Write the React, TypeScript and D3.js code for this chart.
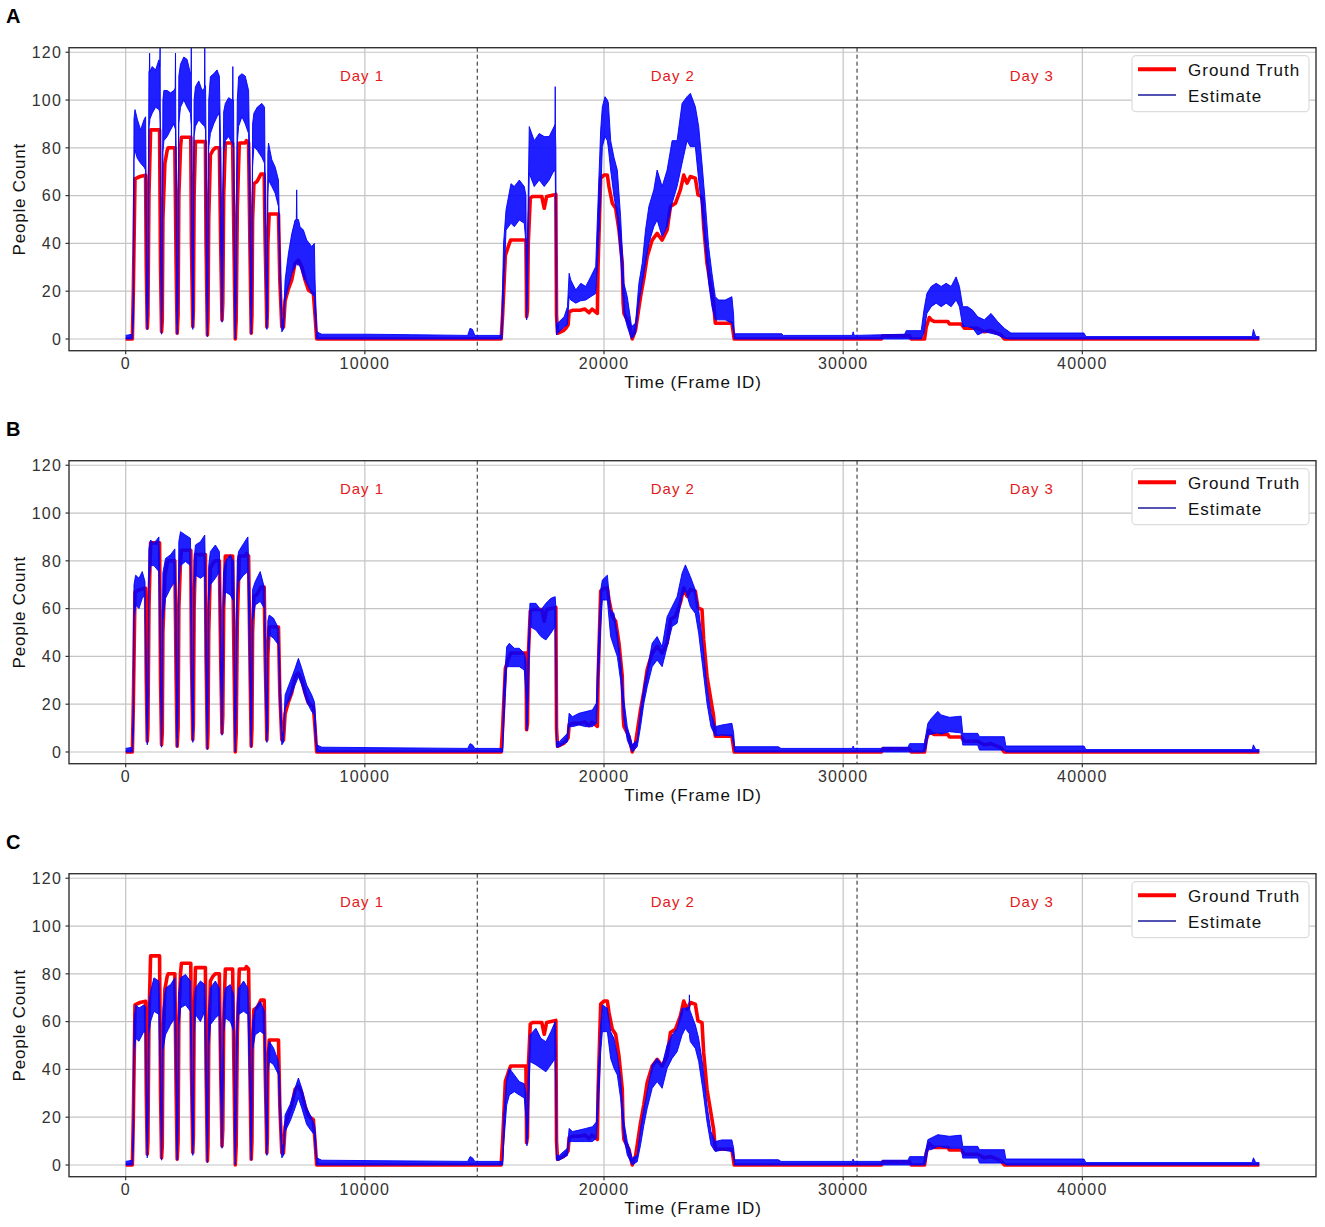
import React from 'react';
import * as d3 from 'd3';

// ground truth: [frame, count] breakpoints (shared by all panels)
const groundTruth: [number, number][] = [
  [0, 0], [280, 0], [320, 20], [389, 67], [600, 68], [833, 68.5], [861, 30], [903, 4.5], [930, 10], [972, 60],
  [1042, 87.5], [1417, 87.5], [1458, 30], [1500, 3], [1530, 8], [1556, 50], [1639, 73.5], [1736, 79], [1780, 80],
  [2056, 80], [2111, 30], [2153, 2.4], [2190, 10], [2222, 60], [2292, 80], [2330, 84.4], [2722, 84.4], [2750, 40],
  [2806, 5.2], [2830, 12], [2861, 60], [2917, 82.6], [3333, 82.6], [3361, 40], [3417, 1.7], [3440, 8], [3472, 50],
  [3542, 77], [3650, 79], [3750, 80], [3917, 80], [3972, 40], [4028, 8], [4060, 15], [4097, 60], [4167, 82],
  [4472, 82], [4528, 40], [4583, 0], [4620, 8], [4667, 55], [4750, 82], [5000, 82], [5050, 83], [5139, 82],
  [5194, 40], [5250, 2.4], [5280, 10], [5306, 50], [5361, 65], [5500, 66], [5653, 69], [5792, 69], [5833, 40],
  [5903, 5], [5925, 12], [5944, 40], [6000, 52.3], [6389, 52.3], [6444, 25], [6528, 5], [6597, 5], [6667, 16],
  [6806, 21], [6944, 24.7], [7083, 31.7], [7222, 33], [7361, 30.3], [7500, 24.7], [7639, 20.5], [7847, 19],
  [7917, 10], [7986, 0],
  [15700, 0], [15760, 10], [15875, 35], [16042, 40], [16100, 41.4], [16736, 41.4], [16764, 9.3], [16800, 12],
  [16833, 40], [16917, 58.9], [17000, 59.6], [17400, 59.6], [17500, 54.7], [17600, 59.6], [17986, 60.5],
  [18014, 10], [18056, 2.4], [18300, 3.5], [18403, 4.5], [18500, 6], [18542, 11.4], [18680, 12], [19000, 12],
  [19200, 12.5], [19375, 11], [19500, 12.5], [19722, 10.7], [19750, 30], [19861, 67.3], [20000, 68.6],
  [20139, 68.6], [20208, 63.8], [20347, 56.8], [20486, 54.7], [20625, 45.6], [20764, 31.7], [20800, 15],
  [20833, 10.7], [21042, 6.6], [21181, 0], [21319, 3.8], [21528, 17.7], [21667, 25.4], [21806, 34.5],
  [22014, 41.4], [22222, 44.2], [22431, 41.4], [22639, 45.6], [22778, 55.4], [22986, 56.8], [23194, 62.4],
  [23333, 68.6], [23472, 65.2], [23611, 68], [23819, 67.3], [23930, 60.3], [24097, 59.6], [24167, 47],
  [24306, 31.7], [24444, 23.3], [24583, 14.9], [24653, 6.6], [25347, 6.6], [25444, 0],
  [31597, 0], [31650, 1.3], [32778, 1.3], [32847, 0], [33403, 0], [33472, 5], [33600, 9], [33681, 8],
  [33819, 7.3], [34375, 7.3], [34444, 6.3], [34931, 6.3], [35069, 4.5], [35625, 4.5], [35903, 3], [36181, 3.5],
  [36600, 1.7], [36736, 0], [47400, 0],
];

// estimate envelopes: [frame, low, high]
const estimateA: [number, number, number][] = [
  [0, 0, 1.5], [280, 0, 2], [330, 10, 25],
  [347, 75, 92], [389, 79, 96], [486, 75.6, 92], [625, 73.5, 87.5], [764, 72, 91.7], [833, 70.7, 93],
  [870, 20, 45], [903, 4, 7], [940, 15, 40],
  [972, 88, 112], [990, 90, 112], [1000, 90, 119.6], [1012, 92, 112], [1111, 94.5, 114], [1250, 97, 112.6],
  [1389, 96, 116.8], [1425, 95, 114], [1440, 90, 122], [1450, 60, 90], [1458, 40, 80],
  [1500, 2, 6], [1530, 15, 40],
  [1556, 78, 100], [1597, 83, 104], [1736, 84.7, 104], [1875, 87.5, 103], [2014, 90, 104], [2070, 88, 105],
  [2083, 88, 119.6], [2095, 60, 90], [2111, 40, 80],
  [2153, 2, 6], [2190, 15, 40],
  [2222, 90, 110], [2292, 97, 115], [2431, 100, 118], [2569, 97, 117], [2708, 94.5, 111], [2735, 90, 111],
  [2743, 90, 122], [2752, 60, 90], [2760, 40, 80],
  [2806, 4, 8], [2830, 15, 40],
  [2861, 85, 100], [2917, 89, 105.6], [3056, 91.7, 108], [3194, 90, 104], [3295, 89, 105], [3306, 89, 122],
  [3318, 88, 106], [3340, 88, 106], [3361, 40, 80],
  [3417, 1, 5], [3440, 15, 40],
  [3472, 80, 100], [3542, 86, 109.8], [3681, 90, 111], [3819, 93, 112.6], [3917, 94.5, 110], [3972, 40, 80],
  [4028, 7, 11], [4060, 20, 45],
  [4097, 78, 95], [4167, 83, 98.6], [4306, 84.7, 101], [4444, 82, 100], [4470, 82, 100], [4480, 82, 114],
  [4490, 80, 100], [4510, 80, 100], [4528, 40, 70],
  [4583, 0, 4], [4620, 15, 40],
  [4667, 82, 100], [4722, 89, 109.8], [4861, 93, 111], [5000, 90, 110], [5139, 86, 104], [5194, 40, 70],
  [5250, 2, 6], [5280, 15, 40],
  [5306, 72, 90], [5361, 80.5, 94.5], [5500, 79, 97], [5694, 76, 98.6], [5806, 73.5, 97], [5833, 40, 65],
  [5903, 4, 8], [5925, 15, 35],
  [5944, 60, 78], [5972, 66.5, 82], [6111, 63.8, 75], [6250, 61, 72], [6389, 55.4, 66.5], [6444, 25, 40],
  [6528, 3, 7], [6597, 4, 9],
  [6667, 16.3, 24.7], [6806, 22, 35.9], [6944, 27.5, 44], [7083, 30.3, 49.8], [7135, 32, 50], [7150, 32, 62.4],
  [7165, 31, 50], [7222, 31, 50], [7292, 30.3, 47], [7431, 26, 45.6], [7569, 23.3, 41.4], [7778, 19, 38.7],
  [7889, 17.7, 40], [7917, 10, 25], [7986, 0, 3],
  [8200, 0, 2], [10000, 0, 2], [12000, 0, 1.8], [14300, 0, 1.5], [14400, 0, 4.5], [14500, 0, 4], [14600, 0, 1.5], [15700, 0, 1.5],
  [15736, 0, 10], [15800, 20, 40], [15903, 45.6, 54], [16111, 48.4, 65], [16250, 47, 63.8], [16458, 49.8, 66.5],
  [16667, 48.4, 63.8], [16736, 40, 60], [16764, 8, 12], [16800, 20, 40], [16875, 69.3, 88.9], [17083, 63.8, 83],
  [17292, 66.5, 86], [17500, 63.8, 84.7], [17708, 66.5, 84.7], [17917, 70.7, 89], [17950, 70, 90], [17960, 70, 105.6],
  [17972, 60, 85], [17986, 50, 80],
  [18014, 1.7, 3.8], [18056, 2.4, 6.6], [18333, 5, 9.3], [18472, 6, 13.5], [18542, 17.7, 27.5], [18611, 16.3, 24.7],
  [18819, 15, 20.5], [19028, 16, 23.3], [19236, 16.3, 22], [19444, 17.7, 26], [19653, 19, 30.3], [19722, 30, 50],
  [19861, 60, 87.5], [19931, 80.5, 97.2], [20042, 84.7, 101.4], [20139, 83, 100], [20181, 80, 99], [20278, 70.7, 83],
  [20417, 59.6, 76], [20556, 51.2, 70.7], [20694, 34.5, 51.2], [20833, 10.7, 23.3], [20972, 5.2, 17.7], [21153, 0, 5.2],
  [21319, 2.4, 6.6], [21458, 15, 23.3], [21597, 23.3, 31.7], [21736, 31.7, 45.6], [21875, 40, 55.4], [22083, 47, 62.4],
  [22222, 49.8, 70.7], [22431, 42.8, 63.8], [22639, 47, 70.7], [22847, 56.8, 83], [23056, 63.8, 83], [23264, 73.5, 98.6],
  [23472, 83, 101.4], [23611, 80.5, 102.8], [23819, 80.5, 97.2], [23958, 66.5, 89], [24097, 54, 73.5], [24236, 38.7, 56.8],
  [24375, 23.3, 38.7], [24514, 13.5, 27.5], [24653, 8, 17.7], [24792, 8, 16.3], [25069, 8, 16.3], [25347, 6.6, 17.7],
  [25420, 3, 10], [25444, 0, 2.2], [27431, 0, 2.2], [27500, 0, 1.5], [30380, 0, 1.5], [30417, 0, 3], [30460, 0, 1.5],
  [32570, 0, 2], [32639, 0, 3.5], [33264, 0, 3.5], [33375, 2.4, 12], [33500, 10.7, 19], [33681, 13.5, 22], [33889, 15, 23.3],
  [34097, 13.5, 22], [34306, 15, 23.3], [34514, 13.5, 22], [34722, 16.3, 26], [34861, 13.5, 22], [35000, 5.2, 13.5],
  [35208, 5.2, 13.5], [35417, 4.5, 12], [35625, 1.7, 9.3], [35903, 3, 8], [36181, 2.4, 10.7], [36458, 1.7, 7.3],
  [36736, 0.3, 4.5], [37014, 0, 2.5], [40069, 0, 2.5], [40150, 0, 1], [47100, 0, 1], [47153, 0, 4], [47250, 0, 1], [47400, 0, 1],
];

const estimateB: [number, number, number][] = [
  [0, 0, 1.5], [280, 0, 2], [330, 10, 25],
  [347, 55, 70], [417, 61.5, 74], [556, 60, 72.7], [694, 64.3, 75.5], [806, 65.7, 71.3], [861, 25, 40], [903, 3, 7], [940, 20, 40],
  [972, 70, 85], [1042, 78, 88.7], [1181, 78, 87.3], [1389, 75.5, 90], [1458, 30, 60], [1500, 2, 6], [1530, 15, 40],
  [1556, 55, 75], [1667, 64.3, 81], [1875, 68.5, 82.5], [2056, 71.3, 85], [2111, 30, 60], [2153, 2, 6], [2190, 15, 40],
  [2222, 70, 88], [2292, 78, 92.2], [2500, 79.7, 90.8], [2708, 78, 89.4], [2750, 30, 60], [2806, 4, 8], [2830, 15, 40],
  [2861, 65, 80], [2917, 74, 86.6], [3125, 72.7, 88], [3306, 74, 90.8], [3361, 30, 60], [3417, 1, 5], [3440, 15, 40],
  [3472, 62, 78], [3542, 70, 83.9], [3750, 72.7, 86.6], [3917, 75.5, 83.9], [3972, 30, 60], [4028, 7, 11], [4060, 20, 40],
  [4097, 60, 75], [4167, 67, 79.7], [4375, 65.7, 82.5], [4514, 63, 79.7], [4540, 30, 55], [4583, 0, 4], [4620, 15, 40],
  [4667, 65, 80], [4722, 71.3, 83.9], [4931, 74, 87.3], [5111, 75.5, 90], [5194, 30, 60], [5250, 2, 6], [5280, 15, 40],
  [5306, 55, 68], [5417, 61.5, 71.3], [5625, 63, 75.5], [5806, 60, 68.5], [5833, 30, 50], [5903, 4, 8], [5925, 15, 35],
  [5944, 42, 55], [6000, 49, 57.3], [6181, 47.6, 56], [6389, 44.8, 51.8], [6444, 20, 35], [6528, 3, 7], [6597, 4, 9],
  [6667, 18.3, 23.9], [6875, 22.5, 29.4], [7083, 28, 35], [7222, 31.5, 39.2], [7361, 28, 35], [7569, 21, 28],
  [7778, 16.9, 23.9], [7889, 15.5, 21], [7917, 8, 18], [7986, 0, 3],
  [8200, 0, 2], [14300, 0, 1.5], [14400, 0, 3.5], [14500, 0, 3], [14600, 0, 1.5], [15764, 0, 1.5],
  [15800, 10, 25], [15931, 35.7, 44], [16042, 35.7, 45.5], [16250, 35.7, 43.4], [16458, 35.7, 43.4], [16667, 34.3, 41.3],
  [16736, 25, 38], [16778, 9, 12], [16820, 20, 40], [16903, 52.5, 62.2], [17153, 51, 62.2], [17361, 48.3, 59.4],
  [17569, 46.9, 62.2], [17778, 49.7, 64.3], [17958, 52.5, 65], [17990, 35, 60], [18014, 2, 4.3], [18125, 2.2, 4.3],
  [18472, 4.3, 7.8], [18542, 10.6, 16.2], [18681, 10.6, 14.8], [18958, 11.3, 16.2], [19236, 10.6, 16.9], [19514, 10.6, 17.6],
  [19681, 12, 20.4], [19764, 30, 45], [19861, 52.5, 67.8], [19931, 63.6, 72], [20139, 63.6, 74], [20278, 48.3, 59.4],
  [20417, 44, 58], [20556, 40, 49.7], [20694, 30, 38.5], [20833, 13.4, 21.8], [20972, 5, 10.6], [21181, 0, 3],
  [21389, 2.2, 5], [21528, 10.6, 17.6], [21667, 20.4, 27.3], [21806, 27.3, 34.3], [22014, 35.7, 45.5], [22222, 38.5, 48.3],
  [22431, 35.7, 44], [22639, 44, 56.6], [22847, 52.5, 60.8], [23056, 53.9, 65], [23264, 65, 74.8], [23403, 67.8, 78.3],
  [23611, 60.8, 73.4], [23819, 58, 67.8], [23958, 49.7, 59.4], [24125, 35.7, 45.5], [24306, 20.4, 27.3], [24472, 10.6, 16.2],
  [24653, 6.7, 10.6], [24931, 7.1, 11.3], [25347, 6.7, 12], [25420, 3, 8], [25458, 0, 2.2], [27292, 0, 2.2], [27400, 0, 1.5],
  [30380, 0, 1.5], [30417, 0, 2.5], [30460, 0, 1.5],
  [31597, 0, 1.5], [31650, 0, 2], [32709, 0, 2], [32778, 0, 3.5], [33403, 0, 3.5], [33472, 2, 8], [33542, 7.1, 12],
  [33681, 7.5, 14], [33958, 8, 17], [34097, 7.5, 15.5], [34444, 8.5, 14.5], [34930, 8, 15], [35000, 2.9, 7.8],
  [35625, 2.9, 7.8], [35700, 0.8, 6.4], [36736, 0.8, 6.4], [36800, 0, 2.5], [40069, 0, 2.5], [40150, 0, 1],
  [47100, 0, 1], [47153, 0, 3], [47250, 0, 1], [47400, 0, 1],
];

const estimateC: [number, number, number][] = [
  [0, 0, 1.5], [280, 0, 2], [330, 10, 25],
  [347, 45, 60], [417, 53, 67], [556, 51.8, 65.7], [764, 56, 67], [833, 55, 66], [861, 25, 40], [903, 3, 7], [940, 20, 40],
  [972, 55, 68], [1042, 60, 72.7], [1181, 64.3, 78.3], [1389, 63, 77], [1458, 30, 55], [1500, 2, 6], [1530, 15, 40],
  [1556, 48, 65], [1667, 54.5, 74], [1875, 58.7, 75.5], [2056, 61.5, 78.3], [2111, 30, 55], [2153, 2, 6], [2190, 15, 40],
  [2222, 58, 72], [2292, 65.7, 78.3], [2500, 67, 79.7], [2708, 64.3, 77], [2750, 30, 55], [2806, 4, 8], [2830, 15, 40],
  [2861, 55, 68], [2917, 63, 74], [3125, 60, 77], [3306, 64.3, 75.5], [3361, 30, 55], [3417, 1, 5], [3440, 15, 40],
  [3472, 50, 65], [3542, 58.7, 74], [3750, 61.5, 77], [3917, 63, 74], [3972, 30, 55], [4028, 7, 11], [4060, 20, 40],
  [4097, 55, 68], [4167, 61.5, 74], [4375, 60, 75.5], [4514, 56, 71.3], [4540, 30, 50], [4583, 0, 4], [4620, 15, 40],
  [4667, 55, 68], [4722, 63, 74], [4931, 64.3, 77], [5111, 63, 74], [5194, 30, 55], [5250, 2, 6], [5280, 15, 40],
  [5306, 48, 60], [5417, 54.5, 65.7], [5625, 56, 68.5], [5806, 54.5, 64.3], [5833, 30, 50], [5903, 4, 8], [5925, 15, 35],
  [5944, 38, 48], [6000, 43.4, 51.8], [6181, 42, 49], [6389, 37.8, 43.4], [6444, 20, 35], [6528, 3, 7], [6597, 4, 9],
  [6667, 14, 21], [6875, 18.3, 25.3], [7083, 23.9, 32.2], [7222, 28, 36.4], [7361, 23.9, 32.2], [7569, 16.9, 23.9],
  [7778, 14, 19.7], [7889, 12.7, 16.9], [7917, 8, 15], [7986, 0, 3],
  [8200, 0, 2], [14300, 0, 1.5], [14400, 0, 3.5], [14500, 0, 3], [14600, 0, 1.5], [15764, 0, 1.5],
  [15800, 8, 20], [15931, 25.1, 36.3], [16042, 29.3, 40.5], [16250, 30.7, 37.7], [16458, 29.3, 34.9], [16667, 28, 34],
  [16736, 20, 30], [16778, 8, 11], [16820, 15, 35], [16903, 43.3, 54.4], [17153, 41.9, 57.2], [17361, 40.5, 53],
  [17569, 39, 51.6], [17778, 41.9, 55.8], [17958, 44.6, 60], [17990, 30, 50], [18014, 2, 4], [18125, 2, 4], [18472, 4, 7],
  [18542, 9.8, 15.3], [18681, 9.8, 14], [18958, 9.8, 14.6], [19236, 9.8, 15.3], [19514, 9.8, 16], [19681, 11.2, 18],
  [19764, 25, 40], [19861, 47.4, 58.6], [19931, 55.8, 67], [20139, 55.8, 65.6], [20278, 44.6, 55.8], [20417, 40.5, 53],
  [20556, 37.7, 46], [20694, 27.9, 36.3], [20833, 11.2, 18.1], [20972, 4.2, 9.8], [21181, 0, 2.8], [21389, 1.4, 4.2],
  [21528, 8.4, 15.3], [21667, 16.7, 23.7], [21806, 23.7, 30.7], [22014, 32.1, 41.9], [22222, 34.9, 44.6], [22431, 32.1, 41.9],
  [22639, 40.5, 50.2], [22847, 44.6, 54.4], [23056, 47.4, 57.2], [23264, 54.4, 65.6], [23403, 57.2, 65.6], [23560, 55, 66],
  [23570, 55, 71.2], [23585, 53, 65], [23611, 51.6, 64.2], [23819, 48.8, 58.6], [23958, 43.3, 53], [24125, 32.1, 41.9],
  [24306, 18.1, 25.1], [24472, 8.4, 14], [24653, 5.6, 9.8], [24931, 6.3, 10.5], [25347, 5.6, 10.5], [25420, 3, 7],
  [25458, 0, 2.2], [27292, 0, 2.2], [27400, 0, 1.5],
  [30380, 0, 1.5], [30417, 0, 2.5], [30460, 0, 1.5],
  [31597, 0, 1.5], [31650, 0, 2], [32709, 0, 2], [32778, 0, 3.5], [33403, 0, 3.5], [33472, 2, 7], [33542, 6.4, 10.6],
  [33681, 6.4, 11.3], [33958, 7.8, 12.7], [34444, 7, 12], [34930, 7, 12.5], [35000, 2.9, 7.8], [35625, 2.9, 7.8],
  [35700, 0.8, 6.4], [36736, 0.8, 6.4], [36800, 0, 2.5], [40069, 0, 2.5], [40150, 0, 1], [47100, 0, 1], [47153, 0, 3],
  [47250, 0, 1], [47400, 0, 1],
];

const panelLetters = ['A', 'B', 'C'];
const panelEstimates = [estimateA, estimateB, estimateC];
const xTicks = [0, 10000, 20000, 30000, 40000];
const yTicks = [0, 20, 40, 60, 80, 100, 120];
const dayDividers = [14700, 30580];
const dayLabels = [
  { text: 'Day 1', frame: 9880 },
  { text: 'Day 2', frame: 22880 },
  { text: 'Day 3', frame: 37890 },
];

const FONT = "'Liberation Sans', Arial, sans-serif";
const W = 1325;
const H = 1227;
const plotLeft = 69;
const plotRight = 1316;
const plotH = 303;
const firstTop = 47.7;
const panelStep = 413;

const x = d3.scaleLinear().domain([-2370, 49770]).range([plotLeft, plotRight]);

function Panel({ letter, est, top }: { letter: string; est: [number, number, number][]; top: number }) {
  const y = d3.scaleLinear().domain([-4.9, 121.9]).range([top + plotH, top]);
  const gtLine = d3.line<[number, number]>().x(d => x(d[0])).y(d => y(d[1]))(groundTruth) || '';
  const band = d3.area<[number, number, number]>()
    .x(d => x(d[0])).y0(d => y(d[1])).y1(d => y(d[2]))(est) || '';
  const hiLine = d3.line<[number, number, number]>().x(d => x(d[0])).y(d => y(d[2]))(est) || '';
  const loLine = d3.line<[number, number, number]>().x(d => x(d[0])).y(d => y(d[1]))(est) || '';
  const clipId = `clip-${letter}`;
  const grid = '#c4c4c4';
  const axisCol = '#333';

  return (
    <g>
      <defs>
        <clipPath id={clipId}>
          <rect x={plotLeft} y={top} width={plotRight - plotLeft} height={plotH} />
        </clipPath>
      </defs>
      <text x={6} y={top - 25} fontFamily={FONT} fontWeight="bold" fontSize={20} fill="#000">{letter}</text>

      {yTicks.map(t => (
        <line key={`gy${t}`} x1={plotLeft} x2={plotRight} y1={y(t)} y2={y(t)} stroke={grid} strokeWidth={1.2} />
      ))}
      {xTicks.map(t => (
        <line key={`gx${t}`} x1={x(t)} x2={x(t)} y1={top} y2={top + plotH} stroke={grid} strokeWidth={1.2} />
      ))}
      {dayDividers.map(f => (
        <line key={`dv${f}`} x1={x(f)} x2={x(f)} y1={top} y2={top + plotH} stroke="#222" strokeWidth={1} strokeDasharray="4,3" />
      ))}
      {dayLabels.map(d => (
        <text key={d.text} x={x(d.frame)} y={y(110) + 5} textAnchor="middle" fontFamily={FONT} fontSize={15}
          letterSpacing={1} fill="#e31a1c">{d.text}</text>
      ))}

      <g clipPath={`url(#${clipId})`}>
        <path d={gtLine} fill="none" stroke="#ff0000" strokeWidth={3.6} strokeLinejoin="round" />
        <path d={band} fill="#0000ff" fillOpacity={0.88} stroke="none" />
        <path d={hiLine} fill="none" stroke="#0000ff" strokeWidth={0.9} />
        <path d={loLine} fill="none" stroke="#0000ff" strokeWidth={0.9} />
      </g>

      <rect x={plotLeft} y={top} width={plotRight - plotLeft} height={plotH} fill="none" stroke={axisCol} strokeWidth={1.4} />

      {yTicks.map(t => (
        <g key={`ty${t}`}>
          <line x1={plotLeft - 3.5} x2={plotLeft} y1={y(t)} y2={y(t)} stroke={axisCol} strokeWidth={1.2} />
          <text x={62} y={y(t)} dy="0.36em" textAnchor="end" fontFamily={FONT} fontSize={16} letterSpacing={1.2} fill="#333">{t}</text>
        </g>
      ))}
      {xTicks.map(t => (
        <g key={`tx${t}`}>
          <line x1={x(t)} x2={x(t)} y1={top + plotH} y2={top + plotH + 3.5} stroke={axisCol} strokeWidth={1.2} />
          <text x={x(t)} y={top + 321.3} textAnchor="middle" fontFamily={FONT} fontSize={16} letterSpacing={1.2} fill="#333">{t}</text>
        </g>
      ))}
      <text x={693} y={top + 340.3} textAnchor="middle" fontFamily={FONT} fontSize={17} letterSpacing={0.9} fill="#111">Time (Frame ID)</text>
      <text transform={`translate(25,${top + plotH / 2}) rotate(-90)`} textAnchor="middle" fontFamily={FONT} fontSize={17}
        letterSpacing={0.8} fill="#111">People Count</text>

      <g>
        <rect x={1132} y={top + 8} width={177} height={56} rx={4} fill="#fff" stroke="#dcdcdc" strokeWidth={1.2} />
        <line x1={1138} x2={1176} y1={top + 21.6} y2={top + 21.6} stroke="#ff0000" strokeWidth={4} />
        <line x1={1138} x2={1176} y1={top + 47.3} y2={top + 47.3} stroke="#1a1a9a" strokeWidth={1.3} />
        <text x={1188} y={top + 28.3} fontFamily={FONT} fontSize={17} letterSpacing={1} fill="#111">Ground Truth</text>
        <text x={1188} y={top + 54} fontFamily={FONT} fontSize={17} letterSpacing={1} fill="#111">Estimate</text>
      </g>
    </g>
  );
}

export default function App() {
  return (
    <svg width={W} height={H} viewBox={`0 0 ${W} ${H}`}
      style={{ position: 'absolute', left: 0, top: 0, background: '#fff' }}>
      <rect x={0} y={0} width={W} height={H} fill="#fff" />
      {panelLetters.map((letter, i) => (
        <Panel key={letter} letter={letter} est={panelEstimates[i]} top={firstTop + i * panelStep} />
      ))}
    </svg>
  );
}
